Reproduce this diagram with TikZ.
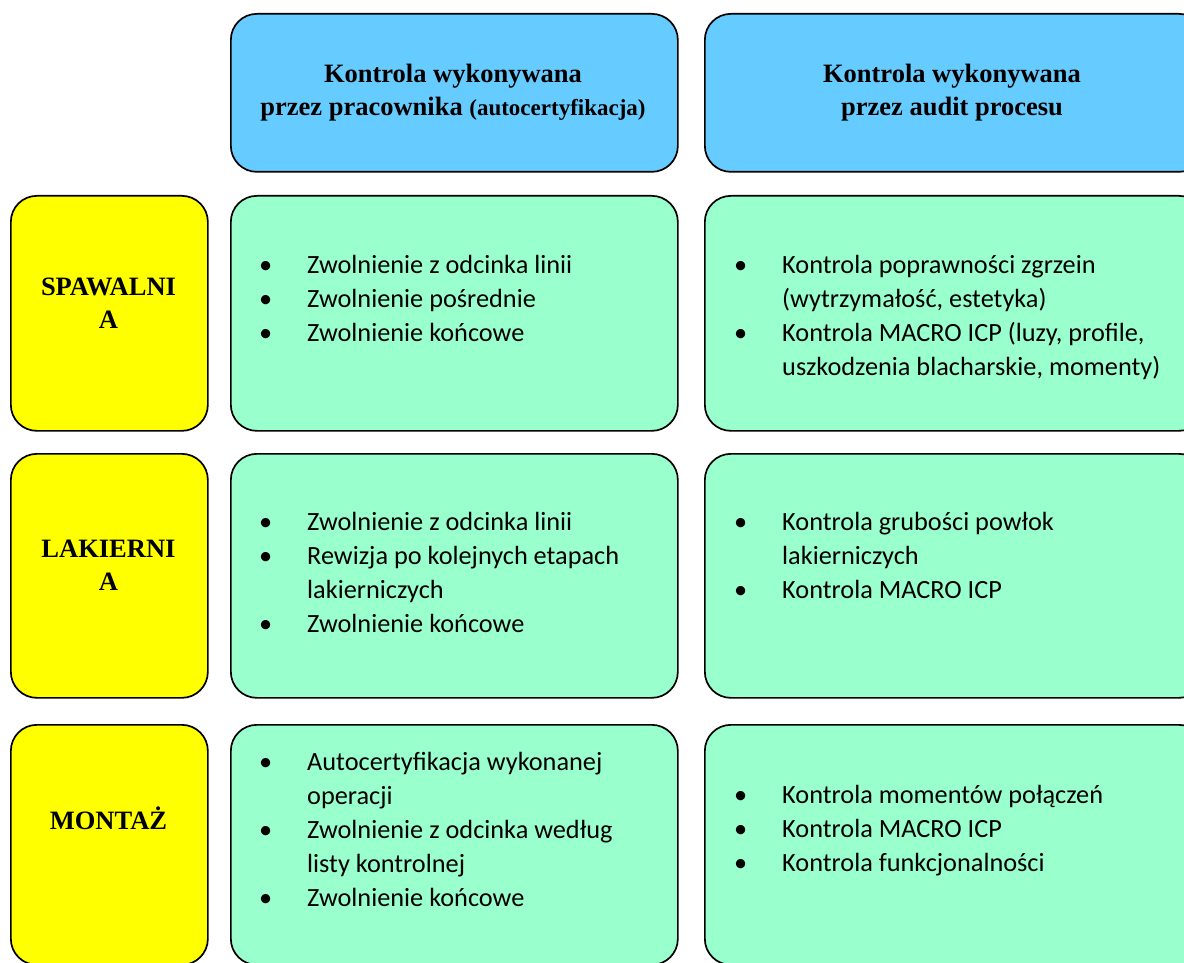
\documentclass[tikz,border=0pt]{standalone}
\usepackage{fontspec}
\setmainfont{Liberation Serif}
\newfontfamily\carl{Carlito}
\definecolor{hdrblue}{HTML}{66CCFF}
\definecolor{secyellow}{HTML}{FFFF00}
\definecolor{cellgreen}{HTML}{99FFCC}
\newcommand\bp{\makebox[48pt][l]{•}}
\begin{document}
\begin{tikzpicture}[x=1pt,y=-1pt,
  box/.style={draw=black, line width=1.7pt, rounded corners=26pt, inner sep=0pt, anchor=north west},
  hdrbox/.style={box, fill=hdrblue},
  secbox/.style={box, fill=secyellow},
  cellbox/.style={box, fill=cellgreen},
  hdrtext/.style={anchor=base, inner sep=0pt, font=\fontsize{26.5}{33}\selectfont\bfseries},
  listtext/.style={anchor=base west, inner sep=0pt, font=\carl\fontsize{26.3}{34}\selectfont}]
\useasboundingbox (0,0) rectangle (1184,963);
\clip (0,0) rectangle (1184,963);
% header boxes
\node[hdrbox, minimum width=447pt, minimum height=158pt] (h1) at (230,13) {};
\node[hdrbox, minimum width=500pt, minimum height=158pt] (h2) at (704,13) {};
\node[hdrtext] (h1t) at (453,83) {\begin{tabular}[t]{@{}c@{}}Kontrola wykonywana\\ przez pracownika {\fontsize{23}{33}\selectfont(autocertyfikacja)}\end{tabular}};
\node[hdrtext] (h2t) at (952,83) {\begin{tabular}[t]{@{}c@{}}Kontrola wykonywana\\ przez audit procesu\end{tabular}};
% row 1
\node[secbox, minimum width=197pt, minimum height=235pt] (s1) at (10,195) {};
\node[cellbox, minimum width=447pt, minimum height=235pt] (c11) at (230,195) {};
\node[cellbox, minimum width=500pt, minimum height=235pt] (c12) at (704,195) {};
\node[hdrtext] (s1t) at (108.5,295) {\begin{tabular}[t]{@{}c@{}}SPAWALNI\\ A\end{tabular}};
\node[listtext] (c11t) at (259,273) {\begin{tabular}[t]{@{}l@{}l@{}}
\bp & Zwolnienie z odcinka linii\\
\bp & Zwolnienie pośrednie\\
\bp & Zwolnienie końcowe\end{tabular}};
\node[listtext] (c12t) at (734,273) {\begin{tabular}[t]{@{}l@{}l@{}}
\bp & Kontrola poprawności zgrzein\\
 & (wytrzymałość, estetyka)\\
\bp & Kontrola MACRO ICP (luzy, profile,\\
 & uszkodzenia blacharskie, momenty)\end{tabular}};
% row 2
\node[secbox, minimum width=197pt, minimum height=244pt] (s2) at (10,453) {};
\node[cellbox, minimum width=447pt, minimum height=244pt] (c21) at (230,453) {};
\node[cellbox, minimum width=500pt, minimum height=244pt] (c22) at (704,453) {};
\node[hdrtext] (s2t) at (108.5,557) {\begin{tabular}[t]{@{}c@{}}LAKIERNI\\ A\end{tabular}};
\node[listtext] (c21t) at (259,530) {\begin{tabular}[t]{@{}l@{}l@{}}
\bp & Zwolnienie z odcinka linii\\
\bp & Rewizja po kolejnych etapach\\
 & lakierniczych\\
\bp & Zwolnienie końcowe\end{tabular}};
\node[listtext] (c22t) at (734,530) {\begin{tabular}[t]{@{}l@{}l@{}}
\bp & Kontrola grubości powłok\\
 & lakierniczych\\
\bp & Kontrola MACRO ICP\end{tabular}};
% row 3
\node[secbox, minimum width=197pt, minimum height=240pt] (s3) at (10,724) {};
\node[cellbox, minimum width=447pt, minimum height=240pt] (c31) at (230,724) {};
\node[cellbox, minimum width=500pt, minimum height=240pt] (c32) at (704,724) {};
\node[hdrtext] (s3t) at (108.5,829) {MONTAŻ};
\node[listtext] (c31t) at (259,770) {\begin{tabular}[t]{@{}l@{}l@{}}
\bp & Autocertyfikacja wykonanej\\
 & operacji\\
\bp & Zwolnienie z odcinka według\\
 & listy kontrolnej\\
\bp & Zwolnienie końcowe\end{tabular}};
\node[listtext] (c32t) at (734,803) {\begin{tabular}[t]{@{}l@{}l@{}}
\bp & Kontrola momentów połączeń\\
\bp & Kontrola MACRO ICP\\
\bp & Kontrola funkcjonalności\end{tabular}};
\end{tikzpicture}
\end{document}
